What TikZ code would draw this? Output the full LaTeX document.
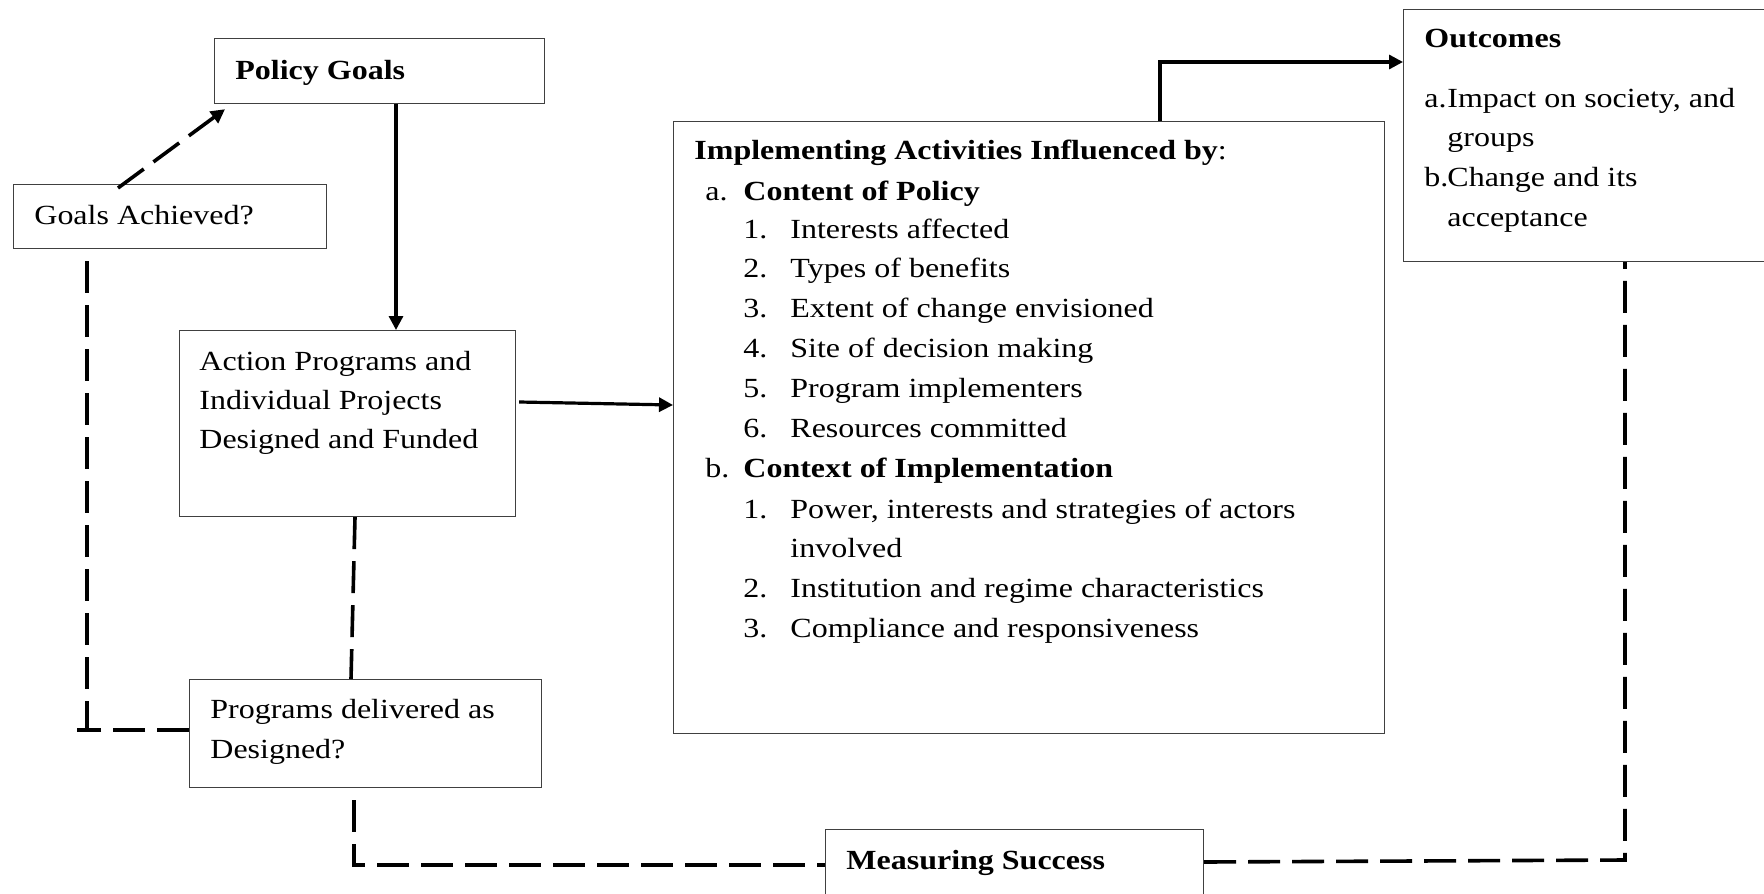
\documentclass[tikz,border=0pt]{standalone}
\usepackage{fontspec}
\setmainfont{Liberation Serif}[FakeStretch=1.155]
\usetikzlibrary{arrows.meta,calc}

\begin{document}
\begin{tikzpicture}[x=0.5pt,y=-0.5pt,
  box/.style={draw=black!75, line width=0.6pt, rectangle, inner sep=0pt, anchor=north west},
  txt/.style={inner sep=0pt, anchor=base west, font=\fontsize{13.85}{16}\selectfont},
  solidcon/.style={line width=1.6pt},
  dashcon/.style={line width=1.8pt, dash pattern=on 16pt off 6pt},
  tip/.style={-{Triangle[length=7pt,width=7pt]}}]
\useasboundingbox (0,0) rectangle (1764,893);
\clip (0,0) rectangle (1764,893);

% boxes
\node[box, minimum width=165pt,   minimum height=32.5pt] (pg)   at (214,38)  {};
\node[box, minimum width=156.5pt, minimum height=32pt]   (ga)   at (13,184)  {};
\node[box, minimum width=168pt,   minimum height=93pt]   (act)  at (179,330) {};
\node[box, minimum width=355.5pt, minimum height=306pt]  (impl) at (673,121) {};
\node[box, minimum width=188.5pt, minimum height=126pt]  (out)  at (1403,9)  {};
\node[box, minimum width=176pt,   minimum height=54pt]   (pd)   at (189,679) {};
\node[box, minimum width=189pt,   minimum height=45pt]   (ms)   at (825,829) {};

% box texts
\node[txt] (pgT) at (235,80) {\bfseries Policy Goals};
\node[txt] (gaT) at (34,225) {Goals Achieved?};

\node[txt] (actA) at (199,370) {Action Programs and};
\node[txt] (actB) at (199,409) {Individual Projects};
\node[txt] (actC) at (199,448) {Designed and Funded};

\node[txt] (pdA) at (210,718) {Programs delivered as};
\node[txt] (pdB) at (210,758) {Designed?};

\node[txt] (msT) at (846,869) {\bfseries Measuring Success};

\node[txt] (outT)  at (1424,48)  {\bfseries Outcomes};
\node[txt] (outAl) at (1424,108) {a.};
\node[txt] (outA)  at (1447,108) {Impact on society, and};
\node[txt] (outA2) at (1447,147) {groups};
\node[txt] (outBl) at (1424,187) {b.};
\node[txt] (outB)  at (1447,187) {Change and its};
\node[txt] (outB2) at (1447,227) {acceptance};

\node[txt] (imT) at (694,160) {\textbf{Implementing Activities Influenced by}:};
\node[txt] (imAl) at (705,200) {a.};
\node[txt] (imA)  at (743,200) {\bfseries Content of Policy};
\node[txt] (n1) at (743,238) {1.}; \node[txt] (i1) at (790,238) {Interests affected};
\node[txt] (n2) at (743,277) {2.}; \node[txt] (i2) at (790,277) {Types of benefits};
\node[txt] (n3) at (743,317) {3.}; \node[txt] (i3) at (790,317) {Extent of change envisioned};
\node[txt] (n4) at (743,357) {4.}; \node[txt] (i4) at (790,357) {Site of decision making};
\node[txt] (n5) at (743,397) {5.}; \node[txt] (i5) at (790,397) {Program implementers};
\node[txt] (n6) at (743,437) {6.}; \node[txt] (i6) at (790,437) {Resources committed};
\node[txt] (imBl) at (705,477) {b.};
\node[txt] (imB)  at (743,477) {\bfseries Context of Implementation};
\node[txt] (m1) at (743,518) {1.}; \node[txt] (j1) at (790,518) {Power, interests and strategies of actors};
\node[txt] (j1b) at (790,557) {involved};
\node[txt] (m2) at (743,597) {2.}; \node[txt] (j2) at (790,597) {Institution and regime characteristics};
\node[txt] (m3) at (743,637) {3.}; \node[txt] (j3) at (790,637) {Compliance and responsiveness};

% solid connectors
\draw[solidcon,tip] (pg.south -| 396,0) -- (act.north -| 396,0);
\draw[solidcon,tip] ([xshift=1.5pt]act.east |- 0,402) -- (impl.west |- 0,405);
\draw[solidcon,tip] (impl.north -| 1160,0) -- (1160,62) -- (out.west |- 0,62);

% dashed feedback connectors
\draw[dashcon,tip] ($(ga.north west)+(105,4)$) -- ($(pg.south west)+(11,5)$);
\draw[dashcon] (act.south -| 355,0) -- (pd.north -| 351,0);
\draw[dashcon,dash phase=16pt] (ga.south -| 87,0) -- (87,730);
\draw[dashcon] (pd.west |- 0,730) -- (77,730);
\draw[dashcon,dash phase=16pt] (pd.south -| 354,0) -- (354,865) -- (ms.west |- 0,865);
\draw[dashcon] (ms.east |- 0,862) -- (1625,860) -- (out.south -| 1625,0);
\end{tikzpicture}
\end{document}
